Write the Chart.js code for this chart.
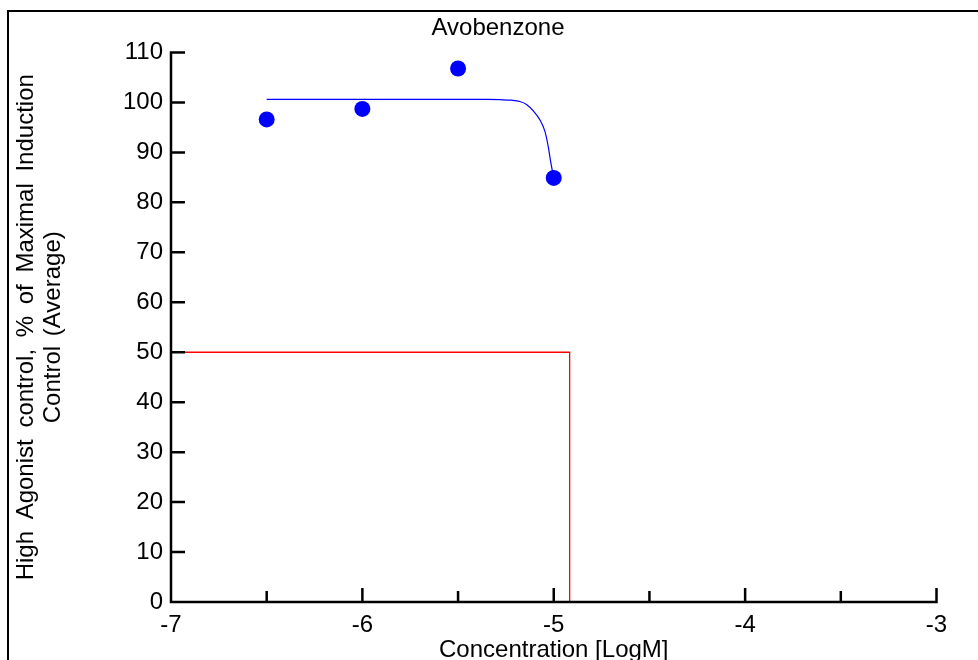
<!DOCTYPE html>
<html><head><meta charset="utf-8">
<script src="https://cdn.jsdelivr.net/npm/chart.js@4/dist/chart.umd.min.js"></script>
<style>html,body{margin:0;padding:0;background:#fff;overflow:hidden}#wrap{position:relative;width:978px;height:660px}</style>
</head><body><div id="wrap"><canvas id="c" width="978" height="660"></canvas></div>
<script>
// ---- data ----
const chartTitle = 'Avobenzone';
const xAxisTitle = 'Concentration [LogM]';
const yAxisTitle = ['High Agonist control, % of Maximal Induction', 'Control (Average)'];
const concLog = [-6.5, -6.0, -5.5, -5.0];
const response = [96.6, 98.7, 106.8, 84.9];
const fitX = [-6.5, -6.0, -5.5, -5.35, -5.28, -5.22, -5.177, -5.142, -5.107, -5.072, -5.046, -5.029, -5.016, -5.0];
const fitY = [100.6, 100.6, 100.6, 100.6, 100.55, 100.45, 100.2, 99.6, 98.3, 96.5, 94.2, 91.2, 88.1, 84.9];
const ec50X = -4.917;
const halfLevel = 50;
const xMin = -7, xMax = -3, xStep = 0.5;
const yMin = 0, yMax = 110, yStep = 10;

const FONT = '"Liberation Sans", Arial, sans-serif';
Chart.defaults.font.family = FONT;
Chart.defaults.color = '#000';

const points = concLog.map((x, i) => ({x, y: response[i]}));
const fit = fitX.map((x, i) => ({x, y: fitY[i]}));
const guide = [{x: xMin, y: halfLevel}, {x: ec50X, y: halfLevel}, {x: ec50X, y: yMin}];

const decor = {
  id: 'decor',
  afterDatasetsDraw(chart) {
    const {ctx, scales: {x, y}} = chart;
    const x0 = x.getPixelForValue(xMin), x1 = x.getPixelForValue(xMax);
    const y0 = y.getPixelForValue(yMin), y1 = y.getPixelForValue(yMax);
    ctx.save();
    ctx.strokeStyle = '#000';
    ctx.lineWidth = 2.5;
    ctx.beginPath();
    ctx.moveTo(x0, y1 - 1.25); ctx.lineTo(x0, y0 + 1.25);
    ctx.moveTo(x0 - 1.25, y0); ctx.lineTo(x1 + 1.25, y0);
    y.ticks.forEach(t => { const py = y.getPixelForValue(t.value); ctx.moveTo(x0, py); ctx.lineTo(x0 + 14, py); });
    x.ticks.forEach(t => {
      if (t.value === xMin) return;
      const px = x.getPixelForValue(t.value);
      const len = Number.isInteger(t.value) ? 14 : 11;
      ctx.moveTo(px, y0); ctx.lineTo(px, y0 - len);
    });
    ctx.stroke();
    ctx.restore();
  },
  afterDraw(chart) {
    const {ctx, scales: {x, y}} = chart;
    ctx.save();
    ctx.fillStyle = '#000';
    ctx.fillRect(7, 10, 2, 650);
    ctx.fillRect(7, 10, 971, 2);
    ctx.font = '24px ' + FONT;
    ctx.textAlign = 'center';
    ctx.textBaseline = 'alphabetic';
    ctx.fillText(chartTitle, 498, 35);
    ctx.fillText(xAxisTitle, (x.left + x.right) / 2, 657);
    const cy = (y.top + y.bottom) / 2;
    ctx.translate(0, cy);
    ctx.rotate(-Math.PI / 2);
    try { ctx.wordSpacing = '5px'; } catch (e) {}
    ctx.fillText(yAxisTitle[0], 0, 33);
    try { ctx.wordSpacing = '3px'; } catch (e) {}
    ctx.fillText(yAxisTitle[1], 0, 60);
    ctx.restore();
  }
};

new Chart(document.getElementById('c'), {
  type: 'scatter',
  data: {
    datasets: [
      {data: points, pointRadius: 8, pointHoverRadius: 8, pointBackgroundColor: '#0000ff', pointBorderWidth: 0, showLine: false},
      {data: fit, showLine: true, borderColor: '#0000ff', borderWidth: 1.2, pointRadius: 0, cubicInterpolationMode: 'monotone', fill: false},
      {data: guide, showLine: true, borderColor: '#ff0000', borderWidth: 1.3, pointRadius: 0, tension: 0, fill: false}
    ]
  },
  options: {
    responsive: false, animation: false, devicePixelRatio: 1,
    layout: {padding: {top: 52.5, right: 41.5, bottom: 0, left: 0}},
    plugins: {legend: {display: false}, tooltip: {enabled: false}, title: {display: false}},
    scales: {
      x: {
        type: 'linear', min: xMin, max: xMax,
        grid: {display: false, drawTicks: false}, border: {display: false},
        ticks: {stepSize: xStep, autoSkip: false, maxRotation: 0, padding: 9, font: {size: 24}, color: '#000',
          callback: v => Number.isInteger(v) ? String(v) : ''},
        afterFit: s => { s.height = 58; }
      },
      y: {
        type: 'linear', min: yMin, max: yMax,
        grid: {display: false, drawTicks: false}, border: {display: false},
        ticks: {stepSize: yStep, padding: 8, font: {size: 24}, color: '#000'},
        afterFit: s => { s.width = 171; }
      }
    }
  },
  plugins: [decor]
});
</script>
</body></html>
